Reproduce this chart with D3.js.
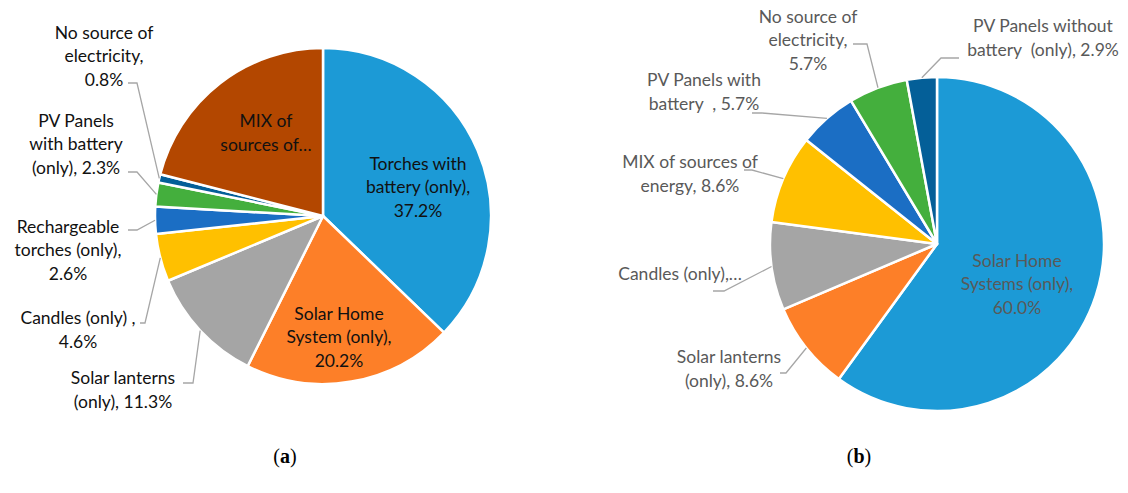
<!DOCTYPE html>
<html>
<head>
<meta charset="utf-8">
<script src="https://cdn.jsdelivr.net/npm/d3@7"></script>
<style>
  body { margin: 0; background: #fff; }
  text { font-family: Lato, 'Open Sans', sans-serif; white-space: pre; }
</style>
</head>
<body>
<div id="chart"></div>
<script>
// ---- data: chart (a)
let catsA = ['Torches with battery (only)', 'Solar Home System (only)', 'Solar lanterns (only)',
  'Candles (only) ', 'Rechargeable torches (only)', 'PV Panels with battery (only)',
  'No source of electricity', 'MIX of sources of energy']
let valsA = [37.2, 20.2, 11.3, 4.6, 2.6, 2.3, 0.8, 21.0]
let linesA = [
  ['Torches with', 'battery (only),', '{v}'],
  ['Solar Home', 'System (only),', '{v}'],
  ['Solar lanterns', '(only), {v}'],
  ['Candles (only) ,', '{v}'],
  ['Rechargeable', 'torches (only),', '{v}'],
  ['PV Panels', 'with battery', '(only), {v}'],
  ['No source of', 'electricity,', '{v}'],
  ['MIX of', 'sources of…']
]
let colorsA = ['#1c9ad6', '#fd7f28', '#a5a5a5', '#ffc000', '#1b6ec4', '#44af3d', '#045f98', '#b34700']

// ---- data: chart (b)
let catsB = ['Solar Home Systems (only)', 'Solar lanterns (only)', 'Candles (only)',
  'MIX of sources of energy', 'PV Panels with battery', 'No source of electricity',
  'PV Panels without battery (only)']
let valsB = [60.0, 8.6, 8.5, 8.6, 5.7, 5.7, 2.9]
let linesB = [
  ['Solar Home', 'Systems (only),', '{v}'],
  ['Solar lanterns', '(only), {v}'],
  ['Candles (only),…'],
  ['MIX of sources of', 'energy, {v}'],
  ['PV Panels with', 'battery  , {v}'],
  ['No source of', 'electricity,', '{v}'],
  ['PV Panels without', 'battery  (only), {v}']
]
let colorsB = ['#1c9ad6', '#fd7f28', '#a5a5a5', '#ffc000', '#1b6ec4', '#44af3d', '#045f98']

// ---- layout
let width = 1128
let height = 493
let lineH = 23.5

// label block centre [x, y], anchor, leader start and elbow (no lead = inside label)
let layoutA = [
  { at: [418, 187] },
  { at: [339, 337] },
  { at: [123, 390], lead: [[183, 383], [193, 383]] },
  { at: [78, 330], lead: [[140, 323], [145, 323]] },
  { at: [68, 250], lead: [[128, 230], [137, 230]] },
  { at: [76, 144], lead: [[128, 172], [137, 172]] },
  { at: [104, 56], lead: [[128, 83], [137, 83]] },
  { at: [266, 133] }
]
let layoutB = [
  { at: [1017, 284] },
  { at: [729, 369], lead: [[780, 373], [786, 373]] },
  { at: [742, 274], anchor: 'end', lead: [[713, 291], [724, 291]] },
  { at: [690, 174], lead: [[744, 170], [752, 170]] },
  { at: [704, 92], lead: [[752, 113], [762, 113]] },
  { at: [808, 40], lead: [[853, 44], [867, 44]] },
  { at: [1043, 38], lead: [[959, 58], [941, 58]] }
]

let svg = d3
  .select('#chart')
  .append('svg')
  .attr('width', width)
  .attr('height', height)

let fmt = v => d3.format('.1f')(v) + '%'

function drawPie(cats, vals, lines, colors, layout, cx, cy, r, textColor) {
  let pie = d3.pie().sort(null).value(d => d)
  let arcs = pie(vals)
  let arc = d3.arc().innerRadius(0).outerRadius(r)

  let g = svg.append('g')

  g.append('g')
    .attr('transform', 'translate(' + cx + ',' + cy + ')')
    .selectAll('.slice')
    .data(arcs)
    .enter()
    .append('path')
    .attr('class', 'slice')
    .attr('d', arc)
    .attr('fill', (d, i) => colors[i])
    .attr('stroke', '#fff')
    .attr('stroke-width', 2.5)
    .attr('stroke-linejoin', 'round')

  // leader lines
  arcs.forEach((d, i) => {
    let lay = layout[i]
    if (!lay.lead) return
    let mid = (d.startAngle + d.endAngle) / 2
    let end = [cx + r * Math.sin(mid), cy - r * Math.cos(mid)]
    g.append('path')
      .attr('d', d3.line()([lay.lead[0], lay.lead[1], end]))
      .attr('fill', 'none')
      .attr('stroke', '#a6a6a6')
      .attr('stroke-width', 1.3)
  })

  // labels
  arcs.forEach((d, i) => {
    let lay = layout[i]
    let ls = lines[i].map(s => s.replace('{v}', fmt(vals[i])))
    let t = g.append('text')
      .attr('x', lay.at[0])
      .attr('y', lay.at[1] - (ls.length - 1) * lineH / 2)
      .attr('text-anchor', lay.anchor || 'middle')
      .attr('font-size', 17.5)
      .attr('fill', textColor)
    ls.forEach((s, k) => {
      t.append('tspan')
        .attr('x', lay.at[0])
        .attr('dy', k === 0 ? '0.35em' : lineH)
        .text(s)
    })
  })
}

drawPie(catsA, valsA, linesA, colorsA, layoutA, 323, 216, 168, '#111')
drawPie(catsB, valsB, linesB, colorsB, layoutB, 937, 244, 167, '#595959')

// panel captions
let caps = [['a', 285], ['b', 859]]
caps.forEach(c => {
  let t = svg.append('text')
    .attr('x', c[1])
    .attr('y', 463)
    .attr('text-anchor', 'middle')
    .attr('font-size', 20)
    .style('font-family', "'Liberation Serif', 'DejaVu Serif', serif")
    .attr('fill', '#000')
  t.append('tspan').text('(')
  t.append('tspan').attr('font-weight', 'bold').text(c[0])
  t.append('tspan').text(')')
})
</script>
</body>
</html>
